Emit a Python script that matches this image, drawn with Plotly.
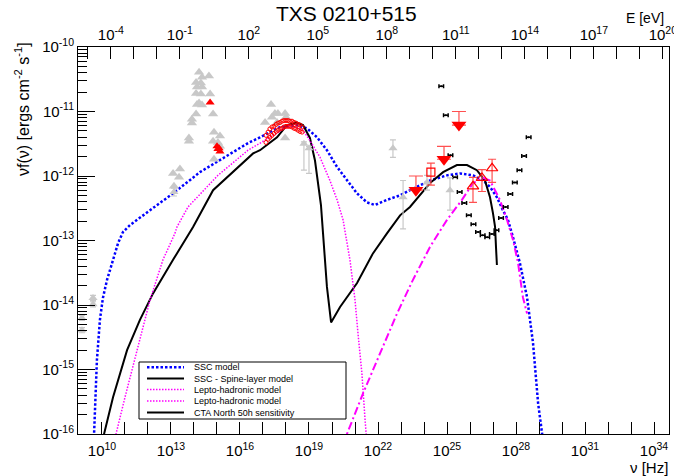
import numpy as np
import plotly.graph_objects as go

# ---------------- axis ranges (log10) ----------------
XR = [8.957, 34.652]          # log10(nu / Hz)
YR = [-16.0, -10.0]           # log10(nuFnu / erg cm-2 s-1)
LOG_H = np.log10(4.135667e-15)  # h in eV s -> E[eV] = h*nu

# ---------------- model curves (log10 nu, log10 nuFnu) ----------------
ssc_lognu = [9.65, 9.70, 9.78, 9.91, 10.04, 10.22, 10.48, 10.70, 10.91, 11.22, 12.09, 13.09, 14.26,
             16.35, 16.87, 17.74, 18.48, 18.91, 19.35, 19.78, 20.22, 20.65, 21.09, 21.52, 21.87,
             22.39, 22.96, 23.39, 24.26, 25.00, 25.57, 26.13, 26.57, 26.87, 27.17, 27.43, 27.65,
             27.87, 28.17, 28.48, 28.74, 28.96, 29.09, 29.17]
ssc_logf = [-16.05, -15.47, -14.85, -14.23, -13.89, -13.61, -13.30, -13.04, -12.87, -12.76, -12.53,
            -12.27, -11.94, -11.49, -11.40, -11.24, -11.21, -11.26, -11.40, -11.60, -11.86, -12.07,
            -12.27, -12.41, -12.45, -12.37, -12.30, -12.22, -12.07, -11.99, -11.96, -11.99, -12.07,
            -12.17, -12.33, -12.53, -12.68, -12.95, -13.35, -13.88, -14.59, -15.52, -15.89, -16.09]

spine_lognu = [10.00, 10.09, 10.48, 11.09, 11.65, 12.22, 13.09, 13.96, 14.83, 15.70, 16.57, 16.87,
               17.61, 18.04, 18.48, 18.74, 19.04, 19.26, 19.39, 19.52, 19.61, 19.78, 19.96, 20.35,
               21.09, 21.78, 22.39, 22.96, 23.39, 24.26, 24.83, 25.43, 25.87, 26.30, 26.65, 26.87,
               27.00, 27.09, 27.13, 27.17]
spine_logf = [-16.15, -16.00, -15.43, -14.70, -14.23, -13.82, -13.30, -12.79, -12.22, -11.94, -11.65,
              -11.60, -11.40, -11.21, -11.17, -11.21, -11.41, -11.76, -12.10, -12.45, -12.89, -13.72,
              -14.27, -14.03, -13.66, -13.20, -12.89, -12.61, -12.48, -12.11, -11.94, -11.83, -11.83,
              -11.91, -12.07, -12.33, -12.58, -12.79, -13.10, -13.38]

lh1_lognu = [10.55, 10.61, 11.00, 11.52, 12.09, 12.65, 13.17, 13.26, 13.74, 15.04, 16.35, 17.30,
             18.17, 18.74, 19.04, 19.48, 19.91, 20.22, 20.48, 20.78, 21.00, 21.13, 21.30, 21.43,
             21.48, 21.52]
lh1_logf = [-16.10, -16.00, -15.43, -14.70, -13.92, -13.30, -12.89, -12.79, -12.48, -11.99, -11.60,
            -11.40, -11.21, -11.29, -11.45, -11.71, -12.07, -12.37, -12.68, -13.30, -13.92, -14.44,
            -15.06, -15.74, -16.00, -16.17]

lh2_lognu = [20.57, 20.65, 21.35, 22.09, 22.83, 23.52, 24.26, 25.00, 25.65, 26.13, 26.57, 26.87,
             27.30, 27.61, 27.87, 28.09, 28.30, 28.48]
lh2_logf = [-16.17, -16.00, -15.37, -14.75, -14.13, -13.61, -13.10, -12.68, -12.37, -12.11, -12.03,
            -12.07, -12.37, -12.68, -12.99, -13.35, -13.88, -14.13]

# ---------------- CTA North 50h sensitivity ----------------
cta_lognu = [24.75, 24.95, 25.15, 25.35, 25.55, 25.75, 25.95, 26.15, 26.35, 26.55,
             26.75, 26.95, 27.15, 27.35, 27.55, 27.75, 27.95, 28.15, 28.35, 28.55]
cta_logf = [-10.61, -11.06, -11.68, -12.02, -12.25, -12.42, -12.61, -12.75, -12.87, -12.92,
            -12.95, -12.90, -12.84, -12.65, -12.48, -12.28, -12.10, -11.91, -11.69, -11.40]
cta_half_dlognu = 0.1

# ---------------- archival (grey) data ----------------
grey_lognu = [14.22, 14.35, 14.65, 14.09, 14.30, 14.13, 14.35, 14.09, 14.30, 14.70, 14.13, 14.35,
              14.22, 14.09, 14.83, 13.91, 13.91, 13.78, 13.78, 14.87, 15.13, 14.83, 15.04, 15.13,
              14.87, 13.39, 13.09, 13.35, 13.13, 17.35, 17.09, 17.39, 17.52, 17.65, 17.96, 18.00,
              17.61, 17.96]
grey_logf = [-10.39, -10.47, -10.45, -10.55, -10.56, -10.62, -10.62, -10.72, -10.73, -10.73, -10.89,
             -10.90, -10.87, -11.04, -11.04, -11.12, -11.18, -11.41, -11.46, -11.32, -11.38, -11.46,
             -11.48, -11.54, -11.74, -11.89, -11.96, -12.02, -12.16, -10.89, -11.17, -11.09, -11.03,
             -11.03, -11.03, -11.09, -11.17, -11.41]

greyerr_lognu = [9.61, 9.61, 9.13, 9.13, 13.13, 18.78, 19.00, 22.65, 23.09, 24.13, 25.13]
greyerr_logf = [-13.89, -13.99, -14.20, -14.39, -12.25, -11.50, -11.57, -11.57, -12.33, -12.10, -12.22]
greyerr_lo = [-13.93, -14.03, -14.24, -14.43, -12.31, -11.91, -11.96, -11.71, -12.82, -12.22, -12.53]
greyerr_hi = [-13.85, -13.95, -14.16, -14.35, -12.19, -11.47, -11.54, -11.44, -12.07, -11.99, -12.03]

# ---------------- new (red) data ----------------
opt_lognu = [14.70, 15.00, 15.09, 15.13, 15.04]
opt_logf = [-10.86, -11.54, -11.57, -11.62, -11.58]

xray_lognu = [17.13, 17.22, 17.30, 17.39, 17.48, 17.57, 17.65, 17.74, 17.83, 17.91, 18.00, 18.09,
              18.17, 18.26, 18.35, 18.43, 18.52, 18.61, 18.70,
              17.13, 17.22, 17.30, 17.39, 17.48, 17.57, 17.65, 17.74, 17.83, 17.91, 18.00, 18.09,
              18.17, 18.26, 18.35, 18.43, 18.52, 18.61, 18.70]
xray_logf = [-11.37, -11.32, -11.27, -11.24, -11.23, -11.20, -11.18, -11.17, -11.15, -11.14, -11.14,
             -11.14, -11.15, -11.15, -11.17, -11.18, -11.20, -11.21, -11.24,
             -11.48, -11.43, -11.40, -11.37, -11.34, -11.31, -11.29, -11.27, -11.26, -11.24, -11.23,
             -11.23, -11.23, -11.24, -11.26, -11.27, -11.29, -11.31, -11.32]

ul_lognu = [23.65, 24.87, 25.52]
ul_logf = [-12.22, -11.74, -11.21]
ul_logtop = [-12.00, -11.54, -11.00]

sq_lognu = [24.30]
sq_logf = [-11.94]
sq_lo = [-12.14]
sq_hi = [-11.80]

tri_lognu = [26.13, 26.52, 26.96]
tri_logf = [-12.16, -12.03, -11.88]
tri_lo = [-12.41, -12.24, -12.10]
tri_hi = [-12.02, -11.90, -11.74]

# ---------------- tick labels ----------------
nu_tick_exp = list(range(9, 35))
nu_label_exp = [10, 13, 16, 19, 22, 25, 28, 31, 34]
e_tick_exp = list(range(-5, 21))
e_label_exp = [-4, -1, 2, 5, 8, 11, 14, 17, 20]
y_tick_exp = list(range(-16, -9))

legend_labels = ["SSC model", "SSC - Spine-layer model", "Lepto-hadronic model",
                 "Lepto-hadronic model", "CTA North 50h sensitivity"]


def p(a):
    return np.power(10.0, np.asarray(a, dtype=float))


FONT = "Liberation Sans, Arial, Helvetica, sans-serif"
GREY = "rgb(200,200,200)"
RED = "rgb(255,0,0)"
SSC_STYLE = dict(color="rgb(0,0,255)", width=2.5, dash="2.5px,2px")
SPINE_STYLE = dict(color="black", width=2)
LH1_STYLE = dict(color="rgb(255,0,255)", width=1.5, dash="1.5px,1.5px")
LH2_STYLE = dict(color="rgb(255,0,255)", width=2, dash="8px,3px,2px,3px")

fig = go.Figure()

# models
fig.add_trace(go.Scatter(x=p(ssc_lognu), y=p(ssc_logf), mode="lines", line=SSC_STYLE,
                         showlegend=False))
fig.add_trace(go.Scatter(x=p(spine_lognu), y=p(spine_logf), mode="lines", line=SPINE_STYLE,
                         showlegend=False))
fig.add_trace(go.Scatter(x=p(lh1_lognu), y=p(lh1_logf), mode="lines", line=LH1_STYLE,
                         showlegend=False))
fig.add_trace(go.Scatter(x=p(lh2_lognu), y=p(lh2_logf), mode="lines", line=LH2_STYLE,
                         showlegend=False))

# CTA sensitivity
cta_nu = p(cta_lognu)
fig.add_trace(go.Scatter(
    x=cta_nu, y=p(cta_logf), mode="markers",
    marker=dict(color="black", size=2),
    error_x=dict(type="data", symmetric=False,
                 array=p(np.asarray(cta_lognu) + cta_half_dlognu) - cta_nu,
                 arrayminus=cta_nu - p(np.asarray(cta_lognu) - cta_half_dlognu),
                 color="black", thickness=1.5, width=2),
    showlegend=False))

# grey archival
fig.add_trace(go.Scatter(x=p(grey_lognu), y=p(grey_logf), mode="markers",
                         marker=dict(symbol="triangle-up", size=9, color=GREY), showlegend=False))
ge_y = p(greyerr_logf)
fig.add_trace(go.Scatter(
    x=p(greyerr_lognu), y=ge_y, mode="markers",
    marker=dict(symbol="triangle-up", size=8, color=GREY),
    error_y=dict(type="data", symmetric=False, array=p(greyerr_hi) - ge_y,
                 arrayminus=ge_y - p(greyerr_lo), color=GREY, thickness=1.2, width=3),
    showlegend=False))

# red optical / X-ray
fig.add_trace(go.Scatter(x=p(opt_lognu), y=p(opt_logf), mode="markers",
                         marker=dict(symbol="triangle-up", size=8, color=RED), showlegend=False))
fig.add_trace(go.Scatter(x=p(xray_lognu), y=p(xray_logf), mode="markers",
                         marker=dict(symbol="circle-open", size=4, color=RED, line=dict(width=1)),
                         showlegend=False))

# upper limits
ul_y = p(ul_logf)
fig.add_trace(go.Scatter(
    x=p(ul_lognu), y=ul_y, mode="markers",
    marker=dict(symbol="triangle-down", size=13, color=RED),
    error_y=dict(type="data", symmetric=False, array=p(ul_logtop) - ul_y,
                 arrayminus=np.zeros(len(ul_y)), color="rgb(255,80,80)", thickness=1.2, width=7),
    showlegend=False))

# open square
sq_y = p(sq_logf)
fig.add_trace(go.Scatter(
    x=p(sq_lognu), y=sq_y, mode="markers",
    marker=dict(symbol="square-open", size=8, color=RED, line=dict(width=1.2)),
    error_y=dict(type="data", symmetric=False, array=p(sq_hi) - sq_y,
                 arrayminus=sq_y - p(sq_lo), color="rgb(255,80,80)", thickness=1.2, width=4),
    showlegend=False))

# open triangles
tri_y = p(tri_logf)
fig.add_trace(go.Scatter(
    x=p(tri_lognu), y=tri_y, mode="markers",
    marker=dict(symbol="triangle-up-open", size=10, color=RED, line=dict(width=1.2)),
    error_y=dict(type="data", symmetric=False, array=p(tri_hi) - tri_y,
                 arrayminus=tri_y - p(tri_lo), color="rgb(255,80,80)", thickness=1.2, width=4),
    showlegend=False))

# invisible trace to anchor the top energy axis
fig.add_trace(go.Scatter(x=[10 ** (XR[0] + LOG_H + 1)], y=[10 ** (YR[0] + 1)], xaxis="x2",
                         mode="markers", marker=dict(opacity=0), hoverinfo="skip",
                         showlegend=False))


def sup(k):
    return "10<sup>%d</sup>" % k


tick_font = dict(family=FONT, size=15, color="black")
tick_common = dict(ticks="inside", tickcolor="black", tickwidth=1, showgrid=False,
                   zeroline=False, tickmode="array", automargin=False)

fig.update_layout(
    width=674, height=476,
    margin=dict(l=78, r=5, t=47, b=42, autoexpand=False),
    paper_bgcolor="white", plot_bgcolor="white",
    showlegend=False,
    xaxis=dict(
        type="log", range=XR, showline=True, linecolor="black", linewidth=1, mirror=True,
        tickvals=[10.0 ** k for k in nu_label_exp],
        ticktext=[sup(k) for k in nu_label_exp],
        ticklen=12, tickfont=tick_font, ticklabelstandoff=3,
        minor=dict(tickmode="array",
                   tickvals=[10.0 ** k for k in nu_tick_exp if k not in nu_label_exp],
                   ticks="inside", ticklen=12, tickcolor="black", tickwidth=1, showgrid=False),
        **tick_common,
    ),
    xaxis2=dict(
        type="log", range=[XR[0] + LOG_H, XR[1] + LOG_H], overlaying="x", side="top",
        anchor="y", showline=True, linecolor="black", linewidth=1,
        tickvals=[10.0 ** k for k in e_label_exp],
        ticktext=[sup(k) for k in e_label_exp],
        ticklen=12, tickfont=tick_font, ticklabeloverflow="allow",
        minor=dict(tickmode="array",
                   tickvals=[10.0 ** k for k in e_tick_exp if k not in e_label_exp],
                   ticks="inside", ticklen=12, tickcolor="black", tickwidth=1, showgrid=False),
        **tick_common,
    ),
    yaxis=dict(
        type="log", range=YR, showline=True, linecolor="black", linewidth=1, mirror=True,
        tickvals=[10.0 ** k for k in y_tick_exp],
        ticktext=[sup(k) for k in y_tick_exp],
        ticklen=17, tickfont=tick_font,
        minor=dict(tickmode="array",
                   tickvals=[m * 10.0 ** k for k in y_tick_exp[:-1] for m in range(2, 10)],
                   ticks="inside", ticklen=9, tickcolor="black", tickwidth=1, showgrid=False),
        **tick_common,
    ),
)

# ---------------- layout helpers: pixel -> paper ----------------
PL, PR, PT, PB = 78.0, 669.0, 47.0, 434.0


def px(xp):
    return (xp - PL) / (PR - PL)


def py(yp):
    return (PB - yp) / (PB - PT)


shapes = []
# short ticks at 5 x 10^n (bottom: frequency, top: energy); shape x on log axes is log10
SHORT = 6.0 / (PB - PT)
for k in nu_tick_exp:
    xv = np.log10(5.0) + k
    if XR[0] < xv < XR[1]:
        shapes.append(dict(type="line", xref="x", yref="paper", x0=xv, x1=xv, y0=0, y1=SHORT,
                           line=dict(color="black", width=1)))
for k in e_tick_exp:
    xv = np.log10(5.0) + k - LOG_H
    if XR[0] < xv < XR[1]:
        shapes.append(dict(type="line", xref="x", yref="paper", x0=xv, x1=xv, y0=1 - SHORT, y1=1,
                           line=dict(color="black", width=1)))

annotations = [
    dict(text="TXS 0210+515", x=px(346), y=py(13.5), xref="paper", yref="paper",
         xanchor="center", yanchor="middle", showarrow=False,
         font=dict(family=FONT, size=21, color="black")),
    dict(text="E [eV]", x=px(666), y=py(18), xref="paper", yref="paper",
         xanchor="right", yanchor="middle", showarrow=False,
         font=dict(family=FONT, size=14, color="black")),
    dict(text="ν [Hz]", x=px(670), y=py(467), xref="paper", yref="paper",
         xanchor="right", yanchor="middle", showarrow=False,
         font=dict(family=FONT, size=15, color="black")),
    dict(text="νf(ν) [ergs cm<sup>-2</sup> s<sup>-1</sup>]", x=px(22), y=py(40),
         xref="paper", yref="paper", xanchor="center", yanchor="top", textangle=-90,
         showarrow=False, font=dict(family=FONT, size=16, color="black")),
]

shapes.append(dict(type="rect", xref="paper", yref="paper", x0=px(139), x1=px(346),
                   y0=py(419), y1=py(362), line=dict(color="black", width=1),
                   fillcolor="white", layer="above"))

leg_styles = [dict(color="rgb(0,0,255)", width=2.5, dash="2.5px,2px"),
              dict(color="black", width=2, dash="solid"),
              dict(color="rgb(255,0,255)", width=1.5, dash="1.5px,1.5px"),
              dict(color="rgb(255,0,255)", width=1.5, dash="1.5px,1.5px"),
              dict(color="black", width=2, dash="solid")]
leg_rows = [367.3, 378.5, 389.5, 401.0, 412.5]
for lab, st, yr in zip(legend_labels, leg_styles, leg_rows):
    shapes.append(dict(type="line", xref="paper", yref="paper", x0=px(147), x1=px(184),
                       y0=py(yr), y1=py(yr), line=st, layer="above"))
    annotations.append(dict(text=lab, x=px(192), y=py(yr), xref="paper", yref="paper",
                            xanchor="left", yanchor="middle", showarrow=False,
                            font=dict(family=FONT, size=9, color="black")))

fig.update_layout(annotations=annotations, shapes=shapes)

fig.write_html("out.html", config={"displayModeBar": False},
               post_script="document.body.style.margin='0px';document.body.style.padding='0px';")
